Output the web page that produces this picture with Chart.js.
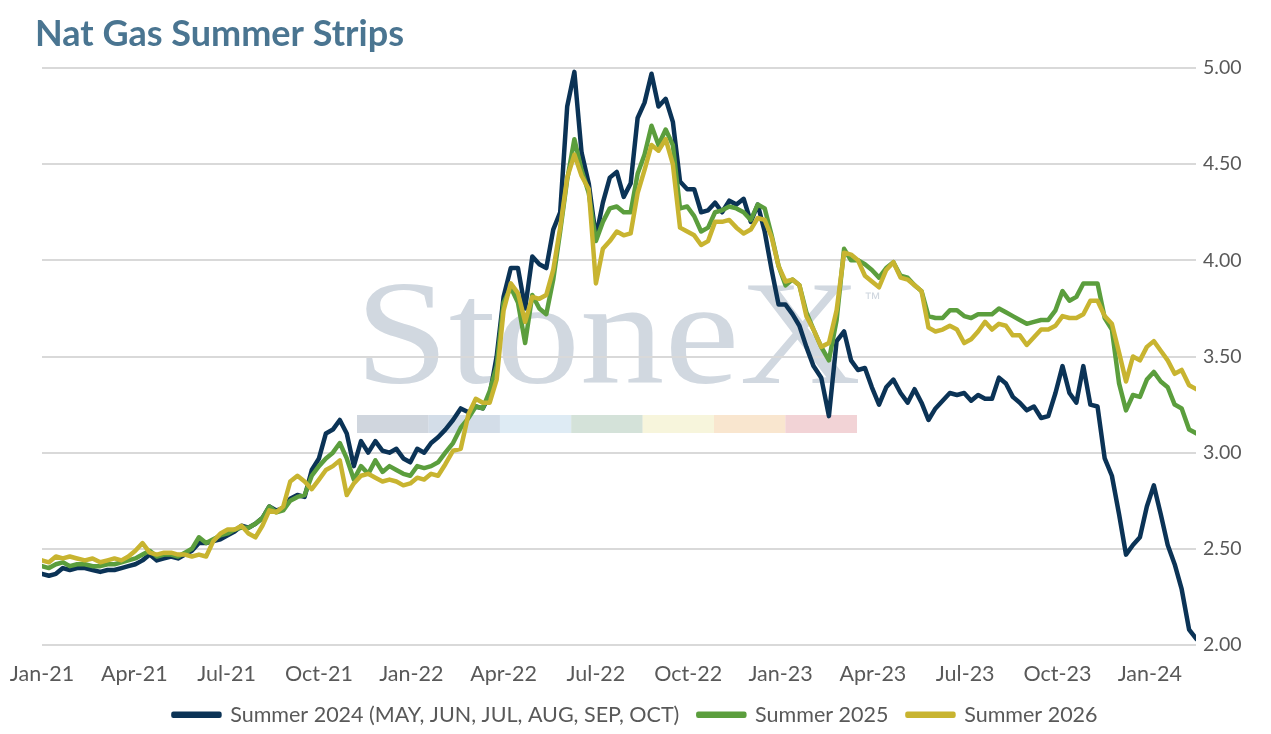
<!DOCTYPE html>
<html>
<head>
<meta charset="utf-8">
<title>Nat Gas Summer Strips</title>
<script src="https://cdn.jsdelivr.net/npm/chart.js@4.4.1/dist/chart.umd.min.js"></script>
<style>
html, body { margin: 0; padding: 0; background: #fff; }
#wrap { width: 1271px; height: 734px; }
</style>
</head>
<body>
<div id="wrap"><canvas id="myChart" width="1271" height="734"></canvas></div>
<script>
var chartTitle = "Nat Gas Summer Strips";
var tickLabels = ["Jan-21", "Apr-21", "Jul-21", "Oct-21", "Jan-22", "Apr-22", "Jul-22",
    "Oct-22", "Jan-23", "Apr-23", "Jul-23", "Oct-23", "Jan-24"];
var seriesNames = ["Summer 2024 (MAY, JUN, JUL, AUG, SEP, OCT)", "Summer 2025", "Summer 2026"];
var seriesColors = ["#0b3356", "#5b9e3d", "#c8b430"];

// weekly settles, first week of Jan-21 to mid Feb-24
var summer2024 = [
    2.37, 2.36, 2.37, 2.40, 2.39, 2.40, 2.40, 2.39, 2.38, 2.39,
    2.39, 2.40, 2.41, 2.42, 2.44, 2.47, 2.44, 2.45, 2.46, 2.45,
    2.47, 2.49, 2.53, 2.53, 2.54, 2.55, 2.57, 2.59, 2.62, 2.61,
    2.63, 2.66, 2.72, 2.70, 2.71, 2.76, 2.78, 2.77, 2.91, 2.97,
    3.10, 3.12, 3.17, 3.10, 2.93, 3.06, 3.00, 3.06, 3.01, 3.00,
    3.02, 2.97, 2.95, 3.02, 3.00, 3.05, 3.08, 3.12, 3.17, 3.23,
    3.21, 3.24, 3.23, 3.30, 3.50, 3.81, 3.96, 3.96, 3.75, 4.02,
    3.98, 3.96, 4.16, 4.25, 4.80, 4.98, 4.56, 4.40, 4.12, 4.30,
    4.43, 4.46, 4.33, 4.40, 4.74, 4.82, 4.97, 4.80, 4.84, 4.72,
    4.41, 4.37, 4.37, 4.25, 4.26, 4.30, 4.25, 4.31, 4.29, 4.32,
    4.20, 4.29, 4.15, 3.95, 3.77, 3.77, 3.72, 3.66, 3.55, 3.45,
    3.39, 3.19, 3.58, 3.63, 3.48, 3.43, 3.44, 3.34, 3.25, 3.34,
    3.38, 3.31, 3.26, 3.33, 3.26, 3.17, 3.23, 3.27, 3.31, 3.30,
    3.31, 3.27, 3.30, 3.28, 3.28, 3.39, 3.36, 3.29, 3.26, 3.22,
    3.24, 3.18, 3.19, 3.31, 3.45, 3.31, 3.26, 3.45, 3.25, 3.24,
    2.97, 2.88, 2.68, 2.47, 2.52, 2.56, 2.72, 2.83, 2.68, 2.52,
    2.42, 2.29, 2.08, 2.03
];
var summer2025 = [
    2.41, 2.40, 2.42, 2.43, 2.41, 2.42, 2.42, 2.41, 2.41, 2.42,
    2.42, 2.43, 2.44, 2.45, 2.47, 2.49, 2.46, 2.47, 2.47, 2.46,
    2.48, 2.50, 2.56, 2.53, 2.55, 2.57, 2.58, 2.60, 2.61, 2.61,
    2.63, 2.66, 2.72, 2.69, 2.70, 2.75, 2.77, 2.78, 2.88, 2.93,
    2.97, 3.00, 3.05, 2.97, 2.86, 2.93, 2.89, 2.96, 2.90, 2.93,
    2.91, 2.89, 2.88, 2.93, 2.92, 2.93, 2.95, 3.00, 3.05, 3.13,
    3.18, 3.24, 3.23, 3.32, 3.45, 3.78, 3.86, 3.78, 3.57, 3.82,
    3.75, 3.72, 3.90, 4.15, 4.42, 4.63, 4.47, 4.35, 4.10, 4.20,
    4.27, 4.28, 4.25, 4.25, 4.45, 4.55, 4.70, 4.60, 4.68, 4.60,
    4.27, 4.28, 4.23, 4.15, 4.17, 4.25, 4.26, 4.28, 4.27, 4.25,
    4.21, 4.29, 4.27, 4.13, 3.97, 3.87, 3.90, 3.87, 3.73, 3.64,
    3.55, 3.48, 3.69, 4.06, 4.00, 4.00, 3.98, 3.95, 3.91, 3.96,
    3.99, 3.92, 3.91, 3.87, 3.84, 3.71, 3.70, 3.70, 3.74, 3.74,
    3.71, 3.70, 3.72, 3.72, 3.72, 3.75, 3.73, 3.71, 3.69, 3.67,
    3.68, 3.69, 3.69, 3.74, 3.84, 3.79, 3.81, 3.88, 3.88, 3.88,
    3.70, 3.64, 3.36, 3.22, 3.30, 3.29, 3.38, 3.42, 3.37, 3.34,
    3.25, 3.23, 3.12, 3.10
];
var summer2026 = [
    2.44, 2.43, 2.46, 2.45, 2.46, 2.45, 2.44, 2.45, 2.43, 2.44,
    2.45, 2.44, 2.46, 2.49, 2.53, 2.48, 2.47, 2.48, 2.48, 2.47,
    2.47, 2.46, 2.47, 2.46, 2.54, 2.58, 2.60, 2.60, 2.62, 2.58,
    2.56, 2.62, 2.70, 2.69, 2.72, 2.85, 2.88, 2.85, 2.81, 2.86,
    2.91, 2.93, 2.96, 2.78, 2.84, 2.88, 2.89, 2.87, 2.85, 2.86,
    2.85, 2.83, 2.84, 2.87, 2.86, 2.89, 2.88, 2.94, 3.01, 3.02,
    3.20, 3.28, 3.26, 3.26, 3.38, 3.74, 3.88, 3.83, 3.68, 3.81,
    3.80, 3.82, 3.95, 4.17, 4.43, 4.55, 4.44, 4.37, 3.88, 4.06,
    4.10, 4.15, 4.13, 4.14, 4.35, 4.47, 4.60, 4.57, 4.63, 4.50,
    4.17, 4.15, 4.13, 4.08, 4.10, 4.20, 4.20, 4.21, 4.17, 4.14,
    4.16, 4.22, 4.21, 4.12, 3.97, 3.89, 3.90, 3.87, 3.71, 3.64,
    3.55, 3.57, 3.74, 4.04, 4.03, 4.00, 3.92, 3.89, 3.86, 3.95,
    3.99, 3.91, 3.90, 3.87, 3.84, 3.65, 3.63, 3.64, 3.66, 3.64,
    3.57, 3.59, 3.63, 3.68, 3.64, 3.67, 3.66, 3.61, 3.61, 3.56,
    3.60, 3.64, 3.64, 3.66, 3.71, 3.70, 3.70, 3.72, 3.79, 3.79,
    3.71, 3.67, 3.52, 3.37, 3.50, 3.48, 3.55, 3.58, 3.53, 3.48,
    3.41, 3.43, 3.35, 3.33
];

// x position of week i, in months since Jan-21
function weekPos(i) {
    var d = new Date(2021, 0, 1 + 7 * i);
    var dim = new Date(d.getFullYear(), d.getMonth() + 1, 0).getDate();
    return (d.getFullYear() - 2021) * 12 + d.getMonth() + (d.getDate() - 1) / dim;
}
function toPoints(arr) {
    return arr.map(function (v, i) { return { x: weekPos(i), y: v }; });
}

var axisFont = { family: "Lato", size: 21.5 };
var valueFont = { family: "Lato", size: 19.5 };
var legendGap = 19;

// background, title and the StoneX watermark
var backdrop = {
    id: "backdrop",
    beforeDraw: function (chart) {
        var ctx = chart.ctx;
        ctx.save();
        ctx.fillStyle = "#fff";
        ctx.fillRect(0, 0, chart.width, chart.height);

        ctx.fillStyle = "#4a7591";
        ctx.font = "bold 36px Lato";
        ctx.textBaseline = "alphabetic";
        ctx.fillText(chartTitle, 35, 46);

        ctx.save();
        ctx.fillStyle = "#d1d8e0";
        ctx.translate(355, 383);
        ctx.scale(1.14, 1);
        ctx.font = "148px 'Liberation Serif'";
        ctx.fillText("StoneX", 0, 0);
        ctx.restore();
        ctx.fillStyle = "#d1d8e0";
        ctx.font = "17px 'Liberation Sans'";
        ctx.fillText("\u2122", 864, 304);

        var bar = ["#d0d6de", "#d3dde8", "#deebf4", "#d4e2d9", "#f7f5dc", "#f9e6cf", "#f2d3d6"];
        for (var k = 0; k < bar.length; k++) {
            ctx.fillStyle = bar[k];
            ctx.fillRect(357 + k * 71.4, 415, 71.6, 18);
        }
        ctx.restore();
    }
};

var datasets = [summer2024, summer2025, summer2026].map(function (arr, k) {
    return {
        label: seriesNames[k],
        data: toPoints(arr),
        borderColor: seriesColors[k],
        backgroundColor: seriesColors[k],
        borderWidth: 4.5,
        pointRadius: 0,
        tension: 0,
        borderJoinStyle: "round",
        borderCapStyle: "round",
        order: 2 - k
    };
});

var myChart = new Chart(document.getElementById("myChart"), {
    type: "line",
    data: { datasets: datasets },
    plugins: [backdrop],
    options: {
        responsive: false,
        animation: false,
        events: [],
        layout: { padding: { left: 0, top: 68, right: 0, bottom: -1.5 } },
        scales: {
            x: {
                type: "linear",
                min: 0,
                max: 37.5,
                grid: { display: false, drawTicks: false },
                border: { display: false },
                ticks: {
                    stepSize: 3,
                    includeBounds: false,
                    autoSkip: false,
                    maxRotation: 0,
                    padding: 16,
                    color: "#595959",
                    font: axisFont,
                    callback: function (v) { return tickLabels[Math.round(v / 3)]; }
                },
                afterFit: function (s) {
                    s.height = 40;
                    s.paddingLeft = 42;
                    s.paddingRight = 0;
                }
            },
            y: {
                position: "right",
                min: 2,
                max: 5,
                grid: { color: "#d9d9d9", lineWidth: 2, drawTicks: false },
                border: { display: false },
                ticks: {
                    stepSize: 0.5,
                    padding: 7,
                    color: "#595959",
                    font: valueFont,
                    callback: function (v) { return v.toFixed(2); }
                },
                afterFit: function (s) { s.width = 75; }
            }
        },
        plugins: {
            title: { display: false },
            tooltip: { enabled: false },
            legend: {
                position: "bottom",
                labels: {
                    boxWidth: 46,
                    boxHeight: 2,
                    padding: legendGap,
                    color: "#595959",
                    font: axisFont,
                    sort: function (a, b) { return a.datasetIndex - b.datasetIndex; }
                }
            }
        }
    }
});
</script>
</body>
</html>
